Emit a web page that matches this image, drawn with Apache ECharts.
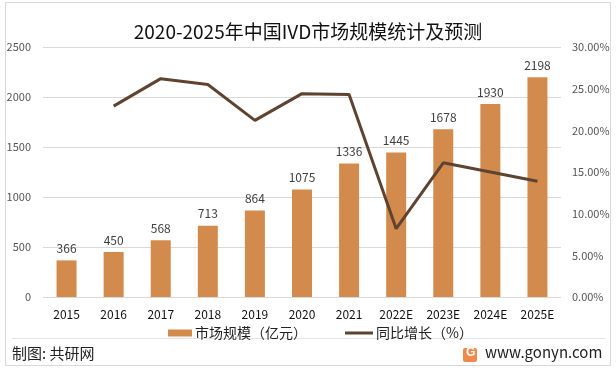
<!DOCTYPE html>
<html><head><meta charset="utf-8">
<script src="https://cdn.jsdelivr.net/npm/echarts@6/dist/echarts.min.js"></script>
<style>html,body{margin:0;padding:0;background:#fff}#c{width:616px;height:370px}</style>
</head><body><div id="c"></div>
<script>
var categories = ['2015','2016','2017','2018','2019','2020','2021','2022E','2023E','2024E','2025E'];
var marketSize = [366,450,568,713,864,1075,1336,1445,1678,1930,2198];
var growth = [null,22.9,26.2,25.5,21.2,24.4,24.3,8.2,16.1,15.0,13.9];
var leftTicks = ['0','500','1000','1500','2000','2500'];
var rightTicks = ['0.00%','5.00%','10.00%','15.00%','20.00%','25.00%','30.00%'];

var font = '"Noto Sans CJK SC","Noto Sans",sans-serif';
var chart = echarts.init(document.getElementById('c'), null, {renderer:'canvas'});
chart.setOption({
  animation:false,
  textStyle:{fontFamily:font},
  title:{text:'2020-2025年中国IVD市场规模统计及预测',left:'center',top:17,
    textStyle:{fontSize:19,fontWeight:'normal',color:'#111',fontFamily:font}},
  grid:{left:43,right:55,top:47,bottom:73},
  legend:[
    {data:[{name:'市场规模（亿元）',icon:'rect'}],left:163,top:321,itemWidth:24,itemHeight:7,itemGap:4,
      textStyle:{fontSize:14,color:'#222',padding:[0,0,0,-2]}},
    {data:[{name:'同比增长（%）',icon:'rect'}],left:340,top:321,itemWidth:28,itemHeight:3,
      textStyle:{fontSize:14,color:'#222',padding:[0,0,0,-2]}}
  ],
  xAxis:{type:'category',data:categories,
    axisLine:{show:false},axisTick:{show:false},
    axisLabel:{color:'#111',fontSize:12,margin:11,interval:0}},
  yAxis:[
    {type:'value',min:0,max:2500,interval:500,
      axisLabel:{color:'#555',fontSize:11,margin:12,formatter:function(v){return leftTicks[Math.round(v/500)];}},
      splitLine:{lineStyle:{color:'#d9d9d9',width:1}},
      axisLine:{show:false},axisTick:{show:false}},
    {type:'value',min:0,max:30,interval:5,
      axisLabel:{color:'#555',fontSize:11,margin:11,formatter:function(v){return rightTicks[Math.round(v/5)];}},
      splitLine:{show:false},axisLine:{show:false},axisTick:{show:false}}
  ],
  series:[
    {name:'市场规模（亿元）',type:'bar',data:marketSize,barWidth:20,
      itemStyle:{color:'#D38B4D'},
      label:{show:true,position:'top',color:'#404040',fontSize:12,distance:6}},
    {name:'同比增长（%）',type:'line',yAxisIndex:1,data:growth,
      symbol:'none',lineStyle:{color:'#5E4430',width:3},itemStyle:{color:'#5E4430'}}
  ],
  graphic:[
    {type:'rect',shape:{x:5.5,y:2.5,width:605,height:363},style:{fill:'none',stroke:'#d9d9d9',lineWidth:1},silent:true},
    {type:'line',shape:{x1:12,y1:338.5,x2:605,y2:338.5},style:{stroke:'#e3e3e3',lineWidth:1}},
    {type:'text',left:12,top:346,style:{text:'制图: 共研网',font:'15px '+font,fill:'#222'}},
    {type:'rect',shape:{x:463,y:348,width:14,height:14,r:2},style:{fill:'#F08A4B'}},
    {type:'text',left:466,top:347,style:{text:'G',font:'bold 12px sans-serif',fill:'#fff'}},
    {type:'text',left:485,top:345,style:{text:'www.gonyn.com',font:'15px '+font,fill:'#222'}}
  ]
});
</script></body></html>
